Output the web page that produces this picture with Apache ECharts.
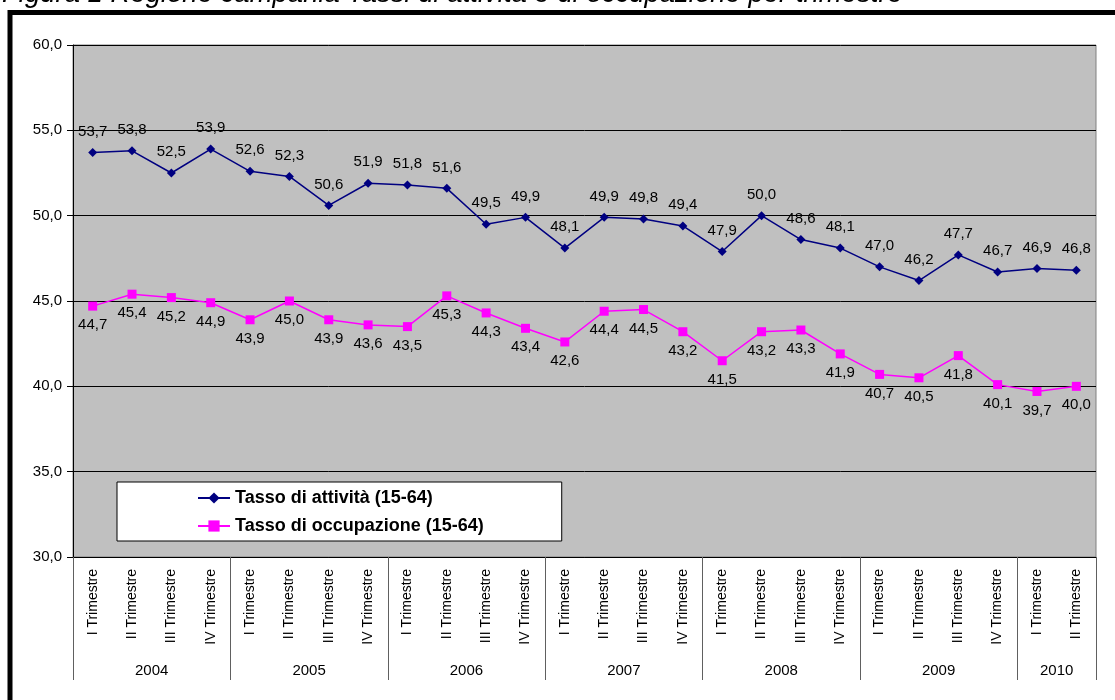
<!DOCTYPE html>
<html>
<head>
<meta charset="utf-8">
<script src="https://cdn.jsdelivr.net/npm/echarts@6/dist/echarts.min.js"></script>
<style>
  html, body { margin: 0; padding: 0; background: #fff; }
  #chart { width: 1115px; height: 700px; }
</style>
</head>
<body>
<div id="chart"></div>
<script>
// dati
var years = ['2004', '2005', '2006', '2007', '2008', '2009', '2010'];
var quarters = ['I Trimestre', 'II Trimestre', 'III Trimestre', 'IV Trimestre'];
var quartersPerYear = [4, 4, 4, 4, 4, 4, 2];

var attivita = [53.7, 53.8, 52.5, 53.9, 52.6, 52.3, 50.6, 51.9, 51.8, 51.6, 49.5, 49.9, 48.1,
                49.9, 49.8, 49.4, 47.9, 50.0, 48.6, 48.1, 47.0, 46.2, 47.7, 46.7, 46.9, 46.8];
var occupazione = [44.7, 45.4, 45.2, 44.9, 43.9, 45.0, 43.9, 43.6, 43.5, 45.3, 44.3, 43.4, 42.6,
                   44.4, 44.5, 43.2, 41.5, 43.2, 43.3, 41.9, 40.7, 40.5, 41.8, 40.1, 39.7, 40.0];

var yTicks = [30, 35, 40, 45, 50, 55, 60];

// categorie e posizioni degli anni sull'asse secondario
var categories = [];
var yearBounds = [0];
var yearCenters = [];
for (var y = 0; y < years.length; y++) {
    var start = categories.length;
    for (var q = 0; q < quartersPerYear[y]; q++) {
        categories.push(quarters[q]);
    }
    yearBounds.push(categories.length);
    yearCenters.push((start + categories.length) / 2);
}

function comma(v) {
    return v.toFixed(1).replace('.', ',');
}

var font = '"Liberation Sans", Arial, sans-serif';

var option = {
    animation: false,
    textStyle: { fontFamily: font },
    graphic: [
        {
            type: 'text', left: 2, top: -19,
            style: {
                text: 'Figura 1 Regione campania Tassi di attività e di occupazione per trimestre',
                font: 'italic 27.5px ' + font, fill: '#000'
            }
        },
        {
            type: 'rect', shape: { x: 10, y: 12.5, width: 1300, height: 900 },
            style: { fill: 'none', stroke: '#000', lineWidth: 5 }
        }
    ],
    grid: {
        left: 73, right: 19, top: 45, bottom: 143,
        show: true, backgroundColor: '#C0C0C0', borderColor: '#808080', borderWidth: 1
    },
    legend: {
        orient: 'vertical',
        left: 117, top: 482,
        padding: [7, 78, 6, 80],
        itemGap: 10,
        itemWidth: 32, itemHeight: 14,
        backgroundColor: '#fff', borderColor: '#000', borderWidth: 1,
        textStyle: { fontSize: 18, fontWeight: 'bold', color: '#000', fontFamily: font },
        data: ['Tasso di attività (15-64)', 'Tasso di occupazione (15-64)']
    },
    xAxis: [
        {
            type: 'category',
            data: categories,
            boundaryGap: true,
            axisLine: { lineStyle: { color: '#000', width: 1 } },
            axisTick: { length: 93, lineStyle: { color: '#606060' } },
            axisLabel: { rotate: 90, fontSize: 14, color: '#000', margin: 12, interval: 0 }
        },
        {
            type: 'value',
            position: 'bottom',
            min: 0, max: categories.length,
            axisLine: { show: false },
            splitLine: { show: false },
            axisTick: { show: true, length: 123, customValues: yearBounds, lineStyle: { color: '#606060' } },
            axisLabel: {
                customValues: yearCenters,
                margin: 106, fontSize: 15, color: '#000',
                formatter: function (v) { return years[yearCenters.indexOf(v)]; }
            }
        }
    ],
    yAxis: {
        type: 'value',
        min: yTicks[0], max: yTicks[yTicks.length - 1], interval: 5,
        axisLine: { show: true, lineStyle: { color: '#000' } },
        axisTick: { show: true, length: 6, lineStyle: { color: '#000' } },
        splitLine: { lineStyle: { color: '#000', width: 1 } },
        axisLabel: { fontSize: 15, color: '#000', margin: 11, formatter: comma }
    },
    series: [
        {
            name: 'Tasso di attività (15-64)',
            type: 'line',
            data: attivita,
            symbol: 'diamond', symbolSize: 9,
            itemStyle: { color: '#000080' },
            lineStyle: { color: '#000080', width: 1.5 },
            label: {
                show: true, position: 'top', distance: 9,
                fontSize: 15, color: '#000',
                formatter: function (p) { return comma(p.value); }
            }
        },
        {
            name: 'Tasso di occupazione (15-64)',
            type: 'line',
            data: occupazione,
            symbol: 'rect', symbolSize: 9,
            itemStyle: { color: '#FF00FF' },
            lineStyle: { color: '#FF00FF', width: 1.5 },
            label: {
                show: true, position: 'bottom', distance: 7,
                fontSize: 15, color: '#000',
                formatter: function (p) { return comma(p.value); }
            }
        }
    ]
};

var chart = echarts.init(document.getElementById('chart'));
chart.setOption(option);
</script>
</body>
</html>
